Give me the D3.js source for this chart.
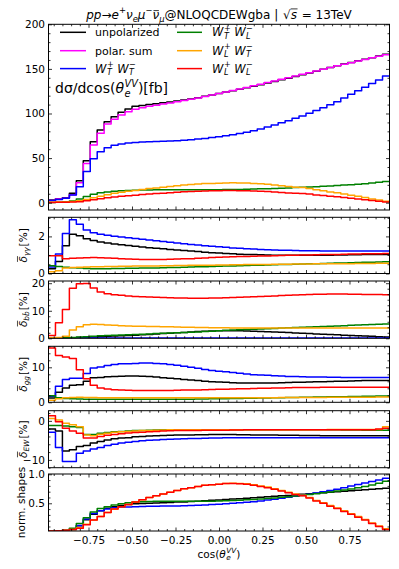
<!DOCTYPE html>
<html><head><meta charset="utf-8">
<script src="https://cdn.jsdelivr.net/npm/d3@7"></script>
<style>
body{margin:0;background:#fff}
svg text{font-family:"DejaVu Sans",sans-serif;fill:#000;white-space:pre}
</style></head>
<body><svg id="c" width="399" height="569"></svg>
<script>
// ---------- data ----------
const binEdges = [-0.98,-0.94,-0.90,-0.86,-0.82,-0.78,-0.74,-0.70,-0.66,-0.62,-0.58,-0.54,-0.50,-0.46,-0.42,-0.38,-0.34,-0.30,-0.26,-0.22,-0.18,-0.14,-0.10,-0.06,-0.02,0.02,0.06,0.10,0.14,0.18,0.22,0.26,0.30,0.34,0.38,0.42,0.46,0.50,0.54,0.58,0.62,0.66,0.70,0.74,0.78,0.82,0.86,0.90,0.94,0.98];
const seriesNames = ["unpolarized","polar. sum","W_T^+W_T^-","W_T^+W_L^-","W_L^+W_T^-","W_L^+W_L^-"];
const seriesColors = ["#000000","#ff00ff","#0000ff","#008000","#ffa500","#ff0000"];
const xTicks = [-0.75,-0.5,-0.25,0,0.25,0.5,0.75];

// main: dsigma/dcos [fb]
const xsUnpol = [3.0,4.5,5.6,10.5,24.7,47.0,68.4,81.5,90.8,96.4,101.3,105.0,108.0,109.0,110.0,111.0,112.0,113.0,114.0,115.0,116.3,117.7,119.2,120.8,122.4,124.0,125.6,127.2,128.8,130.5,132.3,134.1,135.9,137.7,139.5,141.5,143.5,145.5,147.5,149.5,151.5,153.5,155.4,157.2,159.0,160.8,162.6,164.5,166.5];
const xsPolSum = [2.5,4.0,5.0,9.0,22.4,44.0,64.7,77.8,88.2,93.5,98.3,102.0,104.7,106.5,108.0,109.3,110.6,111.9,113.2,114.5,115.9,117.4,119.0,120.6,122.3,124.0,125.7,127.4,129.2,131.0,132.9,134.7,136.5,138.3,140.1,142.0,143.9,145.8,147.7,149.6,151.5,153.4,155.2,157.0,158.8,160.6,162.4,164.2,166.0];
const xsTT = [2.5,3.5,5.0,8.6,17.9,35.0,49.3,57.0,61.5,64.3,65.8,66.9,67.5,67.9,68.2,68.5,68.8,69.1,69.5,70.0,70.6,71.3,72.1,73.0,74.0,75.1,76.3,77.6,79.0,80.6,82.6,84.8,87.1,89.5,92.0,94.6,97.3,100.2,103.3,106.5,109.8,113.3,117.5,121.5,125.5,129.5,133.5,137.5,142.0];
const xsTL = [0.3,0.6,1.0,1.9,4.1,6.8,9.4,11.2,12.0,12.7,13.3,13.8,14.0,14.2,14.3,14.4,14.4,14.4,14.4,14.4,14.4,14.4,14.5,14.5,14.6,14.7,14.8,14.9,15.1,15.3,15.5,15.7,16.0,16.3,16.6,16.9,17.2,17.6,18.0,18.4,18.8,19.2,19.7,20.2,20.7,21.3,22.0,22.8,23.8];
const xsLT = [0.5,0.7,0.9,1.3,2.1,3.7,5.5,7.1,9.0,10.6,11.6,12.7,13.7,14.8,15.8,16.6,17.4,18.2,19.0,19.8,20.3,20.9,21.4,21.6,21.9,22.2,22.3,22.2,22.0,21.6,21.1,20.6,19.8,19.0,18.2,17.4,16.9,15.8,14.5,13.5,12.1,11.1,9.8,8.4,7.1,5.8,4.2,2.9,1.6];
const xsLL = [0.3,0.4,0.6,0.8,1.1,2.1,3.4,4.4,5.5,6.5,7.1,7.8,8.4,9.1,9.7,10.2,10.7,11.2,11.7,12.2,12.5,12.8,13.1,13.3,13.4,13.6,13.6,13.5,13.4,13.1,12.8,12.5,12.0,11.5,11.0,10.5,10.2,9.6,8.7,8.1,7.3,6.6,5.8,5.0,4.2,3.4,2.4,1.6,0.8];

// delta gamma-gamma [%]
const gamUnpol = [0.25,0.65,1.5,2.12,2.04,1.88,1.78,1.7,1.64,1.59,1.55,1.51,1.47,1.43,1.39,1.36,1.33,1.3,1.27,1.24,1.21,1.18,1.15,1.12,1.1,1.08,1.06,1.04,1.03,1.02,1.01,1.0,0.99,0.99,0.98,0.98,0.98,0.98,0.98,0.99,0.99,1.0,1.0,1.01,1.01,1.02,1.02,1.03,1.03];
const gamTT = [0.35,1.05,2.15,2.9,2.65,2.35,2.2,2.12,2.06,2.01,1.97,1.93,1.89,1.85,1.81,1.77,1.73,1.69,1.65,1.61,1.57,1.53,1.5,1.47,1.44,1.41,1.38,1.36,1.34,1.32,1.3,1.28,1.27,1.26,1.25,1.24,1.23,1.22,1.22,1.21,1.21,1.21,1.21,1.21,1.21,1.21,1.21,1.21,1.21];
const gamTL = [0.42,0.38,0.34,0.31,0.29,0.27,0.26,0.26,0.26,0.27,0.27,0.28,0.28,0.29,0.3,0.3,0.31,0.32,0.33,0.34,0.35,0.36,0.37,0.38,0.39,0.4,0.41,0.42,0.43,0.44,0.45,0.46,0.47,0.48,0.49,0.5,0.51,0.52,0.53,0.54,0.55,0.56,0.57,0.58,0.59,0.6,0.61,0.62,0.63];
const gamLT = [0.1,0.15,0.3,0.32,0.34,0.35,0.36,0.37,0.38,0.38,0.39,0.39,0.4,0.4,0.41,0.41,0.42,0.42,0.43,0.43,0.44,0.44,0.45,0.45,0.46,0.46,0.47,0.47,0.48,0.48,0.49,0.49,0.5,0.5,0.5,0.51,0.51,0.51,0.52,0.52,0.52,0.53,0.53,0.53,0.54,0.54,0.54,0.55,0.55];
const gamLL = [0.96,0.96,0.8,0.82,0.84,0.85,0.86,0.85,0.84,0.82,0.8,0.78,0.77,0.76,0.75,0.75,0.76,0.77,0.78,0.79,0.8,0.82,0.84,0.86,0.88,0.89,0.9,0.91,0.92,0.93,0.94,0.95,0.96,0.97,0.98,0.99,1.0,1.0,1.01,1.02,1.03,1.03,1.04,1.05,1.05,1.06,1.07,1.07,1.08];

// delta b-bbar [%]
const bbUnpol = [0.05,0.1,0.15,0.2,0.3,0.4,0.5,0.6,0.7,0.8,0.9,1.0,1.1,1.25,1.4,1.55,1.7,1.85,2.0,2.15,2.3,2.45,2.55,2.65,2.7,2.75,2.75,2.7,2.65,2.6,2.5,2.4,2.3,2.2,2.1,1.95,1.85,1.7,1.6,1.5,1.35,1.25,1.1,1.0,0.9,0.8,0.7,0.6,0.5];
const bbTT = [0.12,0.1,0.1,0.1,0.1,0.1,0.1,0.1,0.1,0.1,0.1,0.1,0.1,0.1,0.1,0.1,0.1,0.1,0.1,0.1,0.1,0.1,0.1,0.1,0.1,0.1,0.1,0.1,0.1,0.1,0.1,0.1,0.1,0.1,0.1,0.1,0.1,0.1,0.1,0.1,0.1,0.1,0.1,0.1,0.1,0.1,0.1,0.1,0.1];
const bbTL = [0.1,0.1,0.2,0.3,0.45,0.6,0.75,0.9,1.0,1.1,1.2,1.3,1.4,1.5,1.6,1.7,1.8,1.9,2.0,2.1,2.2,2.3,2.45,2.6,2.75,2.9,3.0,3.1,3.2,3.3,3.4,3.5,3.6,3.7,3.8,3.9,4.0,4.1,4.2,4.3,4.4,4.5,4.6,4.7,4.8,4.9,5.0,5.1,5.2];
const bbLT = [0.2,0.3,0.7,3.0,4.2,4.9,5.1,5.0,4.8,4.7,4.6,4.5,4.4,4.35,4.3,4.25,4.2,4.15,4.1,4.05,4.0,3.95,3.9,3.85,3.8,3.8,3.75,3.75,3.7,3.7,3.7,3.7,3.7,3.7,3.7,3.7,3.7,3.7,3.7,3.7,3.7,3.7,3.7,3.7,3.7,3.7,3.7,3.7,3.7];
const bbLL = [1.0,5.6,10.5,18.2,19.8,19.9,18.3,16.8,16.2,15.8,15.6,15.4,15.2,15.1,15.0,14.9,14.8,14.7,14.6,14.6,14.5,14.5,14.5,14.6,14.6,14.7,14.8,14.9,15.0,15.1,15.2,15.3,15.4,15.5,15.6,15.7,15.8,15.9,16.0,16.0,16.1,16.1,16.1,16.0,16.0,15.9,15.9,15.9,15.8];

// delta gg [%]
const ggUnpol = [1.2,2.9,4.1,4.9,5.0,6.0,7.0,7.1,7.3,7.4,7.45,7.5,7.5,7.45,7.35,7.2,7.0,6.85,6.7,6.5,6.35,6.2,6.05,5.9,5.8,5.7,5.6,5.55,5.5,5.5,5.5,5.5,5.55,5.6,5.65,5.7,5.75,5.8,5.85,5.9,5.95,6.0,6.05,6.1,6.15,6.2,6.2,6.25,6.25];
const ggTT = [1.7,4.6,6.5,6.9,6.9,8.2,9.8,10.1,10.5,10.8,11.0,11.05,11.1,11.2,11.2,11.1,11.0,10.8,10.6,10.3,10.0,9.7,9.4,9.1,8.9,8.7,8.5,8.3,8.1,7.9,7.8,7.7,7.6,7.5,7.4,7.35,7.3,7.25,7.2,7.2,7.15,7.15,7.1,7.1,7.1,7.1,7.1,7.1,7.1];
const ggTL = [1.9,1.3,1.1,1.0,0.95,0.9,0.9,0.9,0.9,0.9,0.9,0.9,0.9,0.9,0.9,0.9,0.9,0.9,0.9,0.9,0.9,0.95,0.97,1.0,1.02,1.05,1.08,1.1,1.13,1.16,1.2,1.23,1.27,1.3,1.34,1.38,1.42,1.45,1.49,1.52,1.56,1.59,1.62,1.65,1.68,1.71,1.74,1.77,1.8];
const ggLT = [0.6,1.0,1.3,1.4,1.45,1.4,1.35,1.32,1.3,1.3,1.3,1.3,1.3,1.3,1.3,1.3,1.3,1.3,1.3,1.3,1.3,1.3,1.3,1.3,1.3,1.3,1.3,1.3,1.3,1.3,1.31,1.32,1.33,1.34,1.35,1.36,1.37,1.38,1.39,1.4,1.41,1.42,1.43,1.44,1.45,1.46,1.47,1.48,1.5];
const ggLL = [15.5,13.4,12.95,12.5,9.3,6.7,4.9,4.1,3.8,3.6,3.5,3.45,3.4,3.4,3.4,3.4,3.4,3.4,3.45,3.5,3.5,3.55,3.6,3.65,3.7,3.75,3.8,3.85,3.9,3.95,4.0,4.05,4.1,4.1,4.15,4.2,4.2,4.25,4.25,4.3,4.3,4.3,4.3,4.3,4.3,4.3,4.3,4.3,4.3];

// delta EW [%]
const ewUnpol = [-2.1,-2.6,-7.7,-7.4,-6.6,-6.3,-5.7,-5.3,-4.9,-4.6,-4.4,-4.3,-4.1,-4.0,-3.9,-3.8,-3.75,-3.7,-3.65,-3.6,-3.6,-3.55,-3.55,-3.5,-3.5,-3.5,-3.5,-3.55,-3.55,-3.6,-3.6,-3.65,-3.65,-3.7,-3.7,-3.7,-3.75,-3.75,-3.75,-3.8,-3.8,-3.8,-3.8,-3.8,-3.8,-3.8,-3.8,-3.8,-3.8];
const ewTT = [-2.9,-6.8,-10.4,-10.4,-8.3,-7.7,-7.2,-6.8,-6.3,-6.0,-5.7,-5.5,-5.3,-5.1,-5.0,-4.9,-4.8,-4.7,-4.65,-4.6,-4.55,-4.5,-4.45,-4.4,-4.4,-4.35,-4.35,-4.3,-4.3,-4.3,-4.3,-4.3,-4.3,-4.3,-4.3,-4.3,-4.3,-4.3,-4.3,-4.3,-4.3,-4.3,-4.3,-4.3,-4.3,-4.3,-4.3,-4.3,-4.3];
const ewTL = [-1.2,-1.2,-1.3,-1.5,-1.7,-3.5,-3.5,-3.2,-3.0,-2.8,-2.7,-2.6,-2.5,-2.45,-2.4,-2.35,-2.3,-2.3,-2.3,-2.3,-2.3,-2.3,-2.3,-2.3,-2.3,-2.3,-2.3,-2.3,-2.3,-2.3,-2.3,-2.3,-2.3,-2.3,-2.3,-2.3,-2.3,-2.3,-2.3,-2.3,-2.3,-2.3,-2.35,-2.35,-2.35,-2.4,-2.4,-2.4,-2.4];
const ewLT = [0.6,0.2,-0.6,-1.0,-1.5,-3.6,-3.8,-3.4,-3.2,-2.9,-2.8,-2.7,-2.6,-2.5,-2.45,-2.4,-2.35,-2.3,-2.3,-2.25,-2.25,-2.25,-2.25,-2.25,-2.25,-2.25,-2.25,-2.25,-2.25,-2.25,-2.25,-2.25,-2.25,-2.25,-2.25,-2.25,-2.25,-2.25,-2.25,-2.25,-2.2,-2.2,-2.2,-2.2,-2.2,-2.2,-2.2,-2.2,-1.5];
const ewLL = [1.3,-0.2,-1.9,-2.6,-3.2,-4.4,-4.4,-4.0,-3.7,-3.5,-3.3,-3.1,-3.0,-2.9,-2.8,-2.7,-2.6,-2.55,-2.5,-2.5,-2.45,-2.45,-2.4,-2.4,-2.4,-2.4,-2.35,-2.35,-2.3,-2.3,-2.3,-2.3,-2.3,-2.3,-2.3,-2.3,-2.3,-2.3,-2.3,-2.3,-2.3,-2.3,-2.3,-2.3,-2.3,-2.3,-2.3,-2.1,-1.9];

// normalised shapes
const normUnpol = [0.014,0.021,0.026,0.048,0.113,0.214,0.312,0.372,0.414,0.44,0.462,0.479,0.492,0.497,0.502,0.506,0.511,0.515,0.52,0.524,0.53,0.537,0.544,0.551,0.558,0.565,0.573,0.58,0.587,0.595,0.603,0.611,0.62,0.628,0.636,0.645,0.654,0.663,0.673,0.682,0.691,0.7,0.709,0.717,0.725,0.733,0.741,0.75,0.759];
const normTT = [0.016,0.023,0.033,0.056,0.117,0.229,0.323,0.373,0.403,0.421,0.431,0.438,0.442,0.445,0.447,0.449,0.451,0.453,0.455,0.459,0.462,0.467,0.472,0.478,0.485,0.492,0.5,0.508,0.517,0.528,0.541,0.555,0.571,0.586,0.603,0.62,0.637,0.656,0.677,0.698,0.719,0.742,0.77,0.796,0.822,0.848,0.874,0.901,0.93];
const normTL = [0.011,0.022,0.037,0.07,0.15,0.25,0.35,0.41,0.44,0.47,0.49,0.51,0.52,0.525,0.53,0.533,0.533,0.533,0.533,0.533,0.533,0.533,0.537,0.537,0.54,0.544,0.548,0.551,0.559,0.566,0.574,0.581,0.592,0.603,0.614,0.625,0.636,0.651,0.666,0.681,0.696,0.71,0.729,0.747,0.766,0.788,0.814,0.844,0.881];
const normLT = [0.02,0.025,0.035,0.05,0.08,0.14,0.21,0.27,0.34,0.40,0.44,0.48,0.52,0.56,0.60,0.63,0.66,0.69,0.72,0.75,0.77,0.79,0.81,0.82,0.83,0.84,0.845,0.84,0.835,0.82,0.80,0.78,0.75,0.72,0.69,0.66,0.64,0.60,0.55,0.51,0.46,0.42,0.37,0.32,0.27,0.22,0.16,0.11,0.06];
const normLL = [0.02,0.025,0.035,0.05,0.07,0.13,0.21,0.27,0.34,0.40,0.44,0.48,0.52,0.56,0.60,0.63,0.66,0.69,0.72,0.75,0.77,0.79,0.81,0.82,0.83,0.84,0.84,0.835,0.83,0.81,0.79,0.77,0.74,0.71,0.68,0.65,0.63,0.59,0.54,0.50,0.45,0.41,0.36,0.31,0.26,0.21,0.15,0.10,0.05];

// ---------- drawing ----------
const svg = d3.select('#c');
const X0 = 48.5, X1 = 389.5;
const x = d3.scaleLinear().domain([-0.98, 0.98]).range([X0, X1]);
const FS = 10.5;

const panels = [
  {top:24.3, bottom:210, dom:[-8.2,200], major:[0,50,100,150,200], minor:10, fmt:d3.format('d'),
   series:[[xsUnpol,0],[xsPolSum,1],[xsTT,2],[xsTL,3],[xsLT,4],[xsLL,5]]},
  {top:217.3, bottom:273.5, dom:[0,3.03], major:[0,2], minor:0.5, fmt:d3.format('d'),
   series:[[gamUnpol,0],[gamTT,2],[gamTL,3],[gamLT,4],[gamLL,5]], label:'γγ'},
  {top:281, bottom:338.3, dom:[0,20.8], major:[0,10,20], minor:2, fmt:d3.format('d'),
   series:[[bbUnpol,0],[bbTT,2],[bbTL,3],[bbLT,4],[bbLL,5]], label:'bb\u0304'},
  {top:346.3, bottom:402.3, dom:[0,16], major:[0,10], minor:2, fmt:d3.format('d'),
   series:[[ggUnpol,0],[ggTT,2],[ggTL,3],[ggLT,4],[ggLL,5]], label:'gg'},
  {top:410.7, bottom:467.7, dom:[-12,2.6], major:[-10,0], minor:2, fmt:d3.format('d'),
   series:[[ewUnpol,0],[ewTT,2],[ewTL,3],[ewLT,4],[ewLL,5]], label:'EW'},
  {top:474, bottom:531, dom:[0.022,1.005], major:[0.5,1.0], minor:0.1, fmt:d3.format('.1f'),
   series:[[normUnpol,0],[normTT,2],[normTL,3],[normLT,4],[normLL,5]], label:null}
];

function mathText(parent, pieces, size) {
  const g = parent.append('g');
  let cx = 0;
  pieces.forEach(p => {
    if (p.t != null) {
      const t = g.append('text').attr('x', cx).attr('y', 0).attr('font-size', size)
        .attr('font-style', p.it ? 'italic' : 'normal').text(p.t);
      const w = t.node().getComputedTextLength();
      if (p.over) {
        const a = p.overFrom != null ? p.overFrom : 0.2, b = p.overTo != null ? p.overTo : 1.0;
        g.append('line').attr('x1', cx + w * a).attr('x2', cx + w * b)
          .attr('y1', -size * p.over).attr('y2', -size * p.over)
          .attr('stroke', '#000').attr('stroke-width', Math.max(0.7, size * 0.065));
      }
      cx += w + (p.pad || 0);
    } else {
      const s = size * 0.7; let w = 0;
      cx += (p.pre || 0);
      if (p.sup != null) {
        const t = g.append('text').attr('x', cx).attr('y', -size * 0.45).attr('font-size', s)
          .attr('font-style', p.supIt ? 'italic' : 'normal').text(p.sup);
        w = Math.max(w, t.node().getComputedTextLength());
      }
      if (p.sub != null) {
        const t = g.append('text').attr('x', cx).attr('y', size * 0.25).attr('font-size', s)
          .attr('font-style', p.subIt ? 'italic' : 'normal').text(p.sub);
        w = Math.max(w, t.node().getComputedTextLength());
      }
      cx += w + (p.pad || 0);
    }
  });
  return {g, w: cx};
}

const xMinor = d3.range(-0.95, 0.951, 0.05).filter(v => Math.abs(v / 0.25 - Math.round(v / 0.25)) > 1e-6);

function styleAxis(sel) {
  sel.select('.domain').remove();
  sel.selectAll('line').attr('stroke', '#000').attr('stroke-width', 0.8);
  sel.selectAll('text').attr('font-family', '"DejaVu Sans",sans-serif').attr('font-size', FS).attr('fill', '#000');
  sel.attr('font-family', null).attr('font-size', null);
}

panels.forEach((p, pi) => {
  const y = d3.scaleLinear().domain(p.dom).range([p.bottom, p.top]);
  const isLast = pi === panels.length - 1;
  const g = svg.append('g');
  const clipId = 'clip' + pi;
  svg.append('defs').append('clipPath').attr('id', clipId).append('rect')
    .attr('x', X0).attr('y', p.top).attr('width', X1 - X0).attr('height', p.bottom - p.top);

  const line = d3.line().x(d => x(d[0])).y(d => y(d[1])).curve(d3.curveStepAfter);
  const lg = g.append('g').attr('clip-path', `url(#${clipId})`);
  p.series.forEach(([vals, ci]) => {
    const pts = binEdges.map((e, i) => [e, vals[Math.min(i, vals.length - 1)]]);
    lg.append('path').attr('d', line(pts)).attr('fill', 'none')
      .attr('stroke', seriesColors[ci]).attr('stroke-width', 1.5).attr('stroke-linejoin', 'round');
  });

  const lo = p.dom[0], hi = p.dom[1];
  const yMinor = d3.range(Math.ceil(lo / p.minor - 1e-9) * p.minor, hi + 1e-9, p.minor)
    .map(v => +v.toFixed(6))
    .filter(v => !p.major.some(m => Math.abs(m - v) < 1e-6));

  g.append('g').attr('transform', `translate(0,${p.bottom})`)
    .call(d3.axisBottom(x).tickValues(xTicks).tickSize(-3.5).tickPadding(5.5)
      .tickFormat(isLast ? d3.format('.2f') : () => '')).call(styleAxis);
  g.append('g').attr('transform', `translate(0,${p.bottom})`)
    .call(d3.axisBottom(x).tickValues(xMinor).tickSize(-2).tickFormat(() => '')).call(styleAxis);
  g.append('g').attr('transform', `translate(0,${p.top})`)
    .call(d3.axisTop(x).tickValues(xTicks).tickSize(-3.5).tickFormat(() => '')).call(styleAxis);
  g.append('g').attr('transform', `translate(0,${p.top})`)
    .call(d3.axisTop(x).tickValues(xMinor).tickSize(-2).tickFormat(() => '')).call(styleAxis);
  g.append('g').attr('transform', `translate(${X0},0)`)
    .call(d3.axisLeft(y).tickValues(p.major).tickSize(-3.5).tickPadding(3.5).tickFormat(p.fmt)).call(styleAxis);
  g.append('g').attr('transform', `translate(${X0},0)`)
    .call(d3.axisLeft(y).tickValues(yMinor).tickSize(-2).tickFormat(() => '')).call(styleAxis);
  g.append('g').attr('transform', `translate(${X1},0)`)
    .call(d3.axisRight(y).tickValues(p.major).tickSize(-3.5).tickFormat(() => '')).call(styleAxis);
  g.append('g').attr('transform', `translate(${X1},0)`)
    .call(d3.axisRight(y).tickValues(yMinor).tickSize(-2).tickFormat(() => '')).call(styleAxis);

  g.append('rect').attr('x', X0).attr('y', p.top).attr('width', X1 - X0).attr('height', p.bottom - p.top)
    .attr('fill', 'none').attr('stroke', '#000').attr('stroke-width', 1);

  if (pi > 0) {
    let pieces;
    if (p.label) {
      pieces = [{t:'δ', it:1, over:0.86, overFrom:0.1, overTo:1.0}, {sub:p.label, subIt:1, pad:1}, {t:'[%]'}];
    } else {
      pieces = [{t:'norm. shapes'}];
    }
    const holder = svg.append('g');
    const m = mathText(holder, pieces, FS);
    const cy = (p.top + p.bottom) / 2;
    const bx = p.label ? 26.5 : 25;
    m.g.attr('transform', `translate(${bx},${cy}) rotate(-90) translate(${-m.w / 2},0)`);
  }
});

// title
{
  const m = mathText(svg, [
    {t:'pp', it:1}, {t:'→'}, {t:'e', it:1}, {sup:'+'}, {t:'ν', it:1}, {sub:'e', subIt:1},
    {t:'μ', it:1}, {sup:'−'}, {t:'ν', it:1, over:0.66, overFrom:0.15, overTo:0.95}, {sub:'μ', subIt:1},
    {t:'@NLOQCDEWgba\u00a0|\u00a0', pad:1}, {t:'√'}, {t:'s', it:1, over:0.8, overFrom:0, overTo:1.1, pad:1}, {t:'\u00a0=\u00a013TeV'}
  ], 12);
  m.g.attr('transform', `translate(${219 - m.w / 2},18.5)`);
}

// legend
const legendRows = [
  {ci:0, col:0, row:0, pieces:[{t:'unpolarized'}]},
  {ci:1, col:0, row:1, pieces:[{t:'polar. sum'}]},
  {ci:2, col:0, row:2, pieces:[{t:'W', it:1}, {pre:0.5, sup:'+', sub:'T', subIt:1, pad:3.5}, {t:'W', it:1}, {pre:0.5, sup:'−', sub:'T', subIt:1}]},
  {ci:3, col:1, row:0, pieces:[{t:'W', it:1}, {pre:0.5, sup:'+', sub:'T', subIt:1, pad:3.5}, {t:'W', it:1}, {pre:0.5, sup:'−', sub:'L', subIt:1}]},
  {ci:4, col:1, row:1, pieces:[{t:'W', it:1}, {pre:0.5, sup:'+', sub:'L', subIt:1, pad:3.5}, {t:'W', it:1}, {pre:0.5, sup:'−', sub:'T', subIt:1}]},
  {ci:5, col:1, row:2, pieces:[{t:'W', it:1}, {pre:0.5, sup:'+', sub:'L', subIt:1, pad:3.5}, {t:'W', it:1}, {pre:0.5, sup:'−', sub:'L', subIt:1}]}
];
const legCols = [{l0:60, l1:86, tx:95}, {l0:177, l1:202, tx:212}];
const legRowsY = [32.3, 50.7, 68.6];
legendRows.forEach(r => {
  const c = legCols[r.col], yy = legRowsY[r.row];
  svg.append('line').attr('x1', c.l0).attr('x2', c.l1).attr('y1', yy).attr('y2', yy)
    .attr('stroke', seriesColors[r.ci]).attr('stroke-width', 1.5);
  const m = mathText(svg, r.pieces, r.col === 0 && r.row < 2 ? 11 : 11.5);
  m.g.attr('transform', `translate(${c.tx},${yy + 3.9})`);
});

// main y text
{
  const m = mathText(svg, [{t:'dσ/dcos('}, {t:'θ', it:1}, {pre:0.5, sup:'VV', sub:'e', supIt:1, subIt:1}, {t:')[fb]'}], 14);
  m.g.attr('transform', `translate(55,93)`);
}
// x label
{
  const m = mathText(svg, [{t:'cos('}, {t:'θ', it:1}, {pre:0.5, sup:'VV', sub:'e', supIt:1, subIt:1}, {t:')'}], FS);
  m.g.attr('transform', `translate(${219 - m.w / 2},557.5)`);
}
</script>
</body></html>
